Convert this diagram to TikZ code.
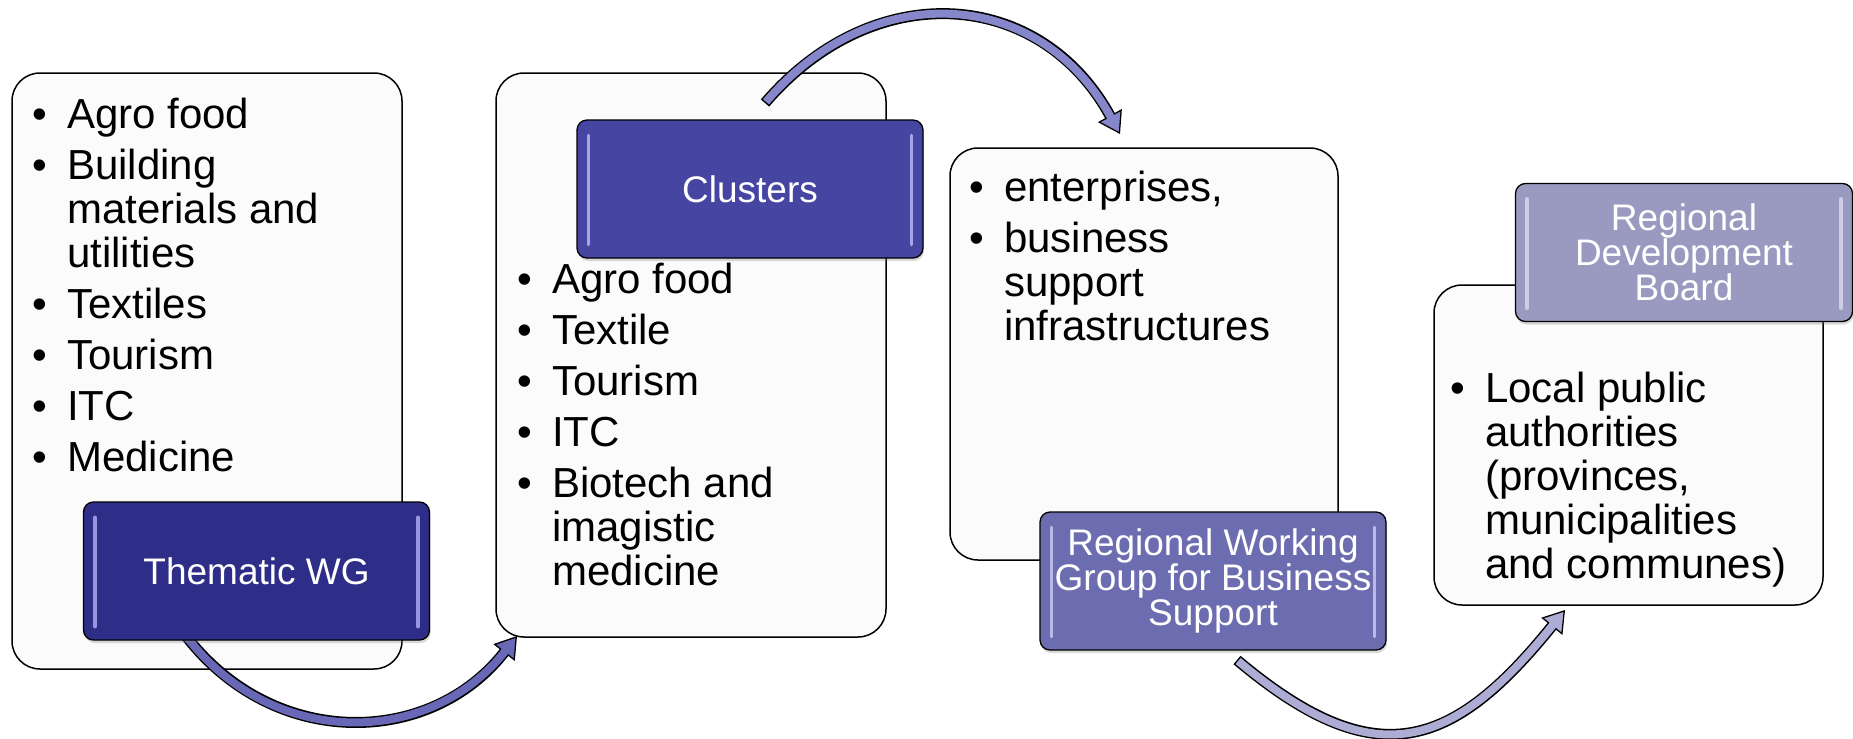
\documentclass[tikz,border=0pt]{standalone}
\usepackage{fontspec}
\setmainfont{Liberation Sans}
\usetikzlibrary{arrows.meta,shadows}
\definecolor{boxfill}{RGB}{251,251,251}
\definecolor{hdrA}{RGB}{46,46,136}
\definecolor{hdrB}{RGB}{70,70,162}
\definecolor{hdrC}{RGB}{108,108,176}
\definecolor{hdrD}{RGB}{154,154,192}
\definecolor{barA}{RGB}{150,150,225}
\definecolor{barB}{RGB}{165,165,232}
\definecolor{barC}{RGB}{185,185,232}
\definecolor{barD}{RGB}{205,205,228}
\definecolor{arrA}{RGB}{104,104,182}
\definecolor{arrB}{RGB}{134,134,202}
\definecolor{arrC}{RGB}{172,172,212}
\newcommand{\bitem}[1]{\par\noindent\hangindent=35pt\hangafter=1\makebox[35pt][l]{\textbullet}#1}
\newcommand{\bodyfont}{\fontsize{42}{44}\selectfont\setlength{\parskip}{7pt}}
\begin{document}
\begin{tikzpicture}[x=1pt,y=-1pt,
  wbox/.style={draw=black, line width=1.5pt, fill=boxfill, rounded corners=28pt, inner sep=0pt},
  hdr/.style={draw=black, line width=1.3pt, rounded corners=10pt, minimum width=346pt, minimum height=138pt,
    inner sep=0pt, text=white, font=\fontsize{37}{35}\selectfont, align=center,
    drop shadow={opacity=0.3, shadow xshift=1pt, shadow yshift=-3pt}},
  barln/.style={line width=3.5pt, line cap=round},
  txt/.style={inner sep=0pt, anchor=base west},
  shaft/.style={line width=11pt, draw=black},
  inner/.style={line width=8pt, shorten <=1.5pt, shorten >=19pt}
]
\useasboundingbox (0,0) rectangle (1853,739);

% white boxes
\node[wbox, minimum width=390pt, minimum height=596pt] (b1) at (207,371) {};
\node[wbox, minimum width=390pt, minimum height=564pt] (b2) at (691,355) {};
\node[wbox, minimum width=388pt, minimum height=412pt] (b3) at (1144,354) {};
\node[wbox, minimum width=389pt, minimum height=320pt] (b4) at (1628.5,445) {};

% texts
\node[txt] (t1) at (32,128) {\parbox[t]{360pt}{\bodyfont
  \bitem{Agro food}\bitem{Building\\materials and\\utilities}\bitem{Textiles}\bitem{Tourism}\bitem{ITC}\bitem{Medicine}}};
\node[txt] (t2) at (517,293) {\parbox[t]{360pt}{\bodyfont
  \bitem{Agro food}\bitem{Textile}\bitem{Tourism}\bitem{ITC}\bitem{Biotech and\\imagistic\\medicine}}};
\node[txt] (t3) at (969,201) {\parbox[t]{360pt}{\bodyfont
  \bitem{enterprises,}\bitem{business\\support\\infrastructures}}};
\node[txt] (t4) at (1450,402) {\parbox[t]{360pt}{\bodyfont
  \bitem{Local public\\authorities\\(provinces,\\municipalities\\and communes)}}};

% arrows
\coordinate (a1s) at (186,636);
\coordinate (a1e) at (517,636);
\draw[shaft, -{Triangle[width=27pt,length=21pt,fill=arrA,line width=1.3pt]}] (a1s) .. controls (274,750) and (430,747) .. (a1e);
\draw[inner, arrA] (a1s) .. controls (274,750) and (430,747) .. (a1e);

\coordinate (a2s) at (765,103);
\coordinate (a2e) at (1120,134);
\draw[shaft, -{Triangle[width=27pt,length=21pt,fill=arrB,line width=1.3pt]}] (a2s) .. controls (874,-24) and (1040,-12) .. (a2e);
\draw[inner, arrB] (a2s) .. controls (874,-24) and (1040,-12) .. (a2e);

\coordinate (a3s) at (1237,660);
\coordinate (a3e) at (1565,610);
\draw[shaft, -{Triangle[width=27pt,length=21pt,fill=arrC,line width=1.3pt]}] (a3s) .. controls (1375,776) and (1452,750) .. (a3e);
\draw[inner, arrC] (a3s) .. controls (1375,776) and (1452,750) .. (a3e);

% headers
\node[hdr, fill=hdrA] (thm) at (256.5,571) {Thematic WG};
\node[hdr, fill=hdrB] (cls) at (750,189) {Clusters};
\node[hdr, fill=hdrC] (rwg) at (1213,581) {Regional Working\\Group for Business\\Support};
\node[hdr, fill=hdrD, minimum width=337pt] (rdb) at (1684,252.5) {Regional\\Development\\Board};

\foreach \n/\c in {thm/barA, cls/barB, rwg/barC, rdb/barD}{
  \draw[barln, \c] ([shift={(12,16)}]\n.north west) -- ([shift={(12,-14)}]\n.south west);
  \draw[barln, \c] ([shift={(-12,16)}]\n.north east) -- ([shift={(-12,-14)}]\n.south east);
}
\end{tikzpicture}
\end{document}
